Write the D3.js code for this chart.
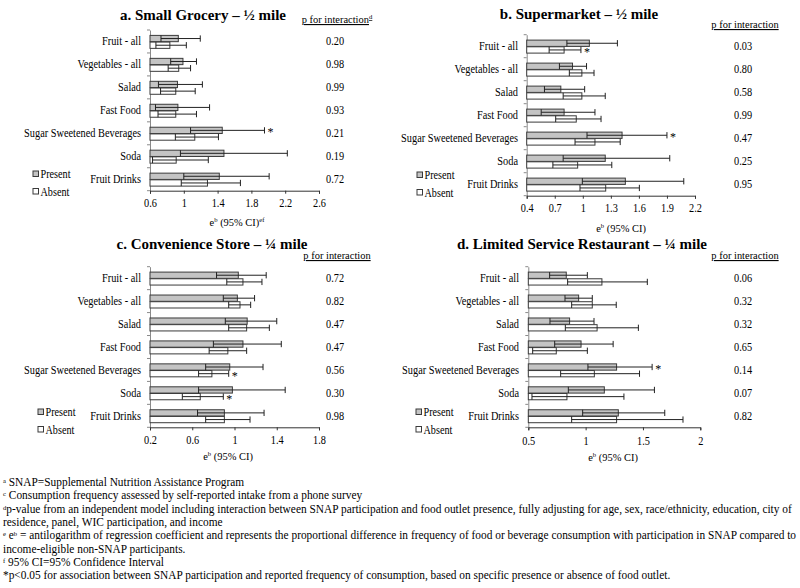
<!DOCTYPE html>
<html><head><meta charset="utf-8">
<script src="https://cdn.jsdelivr.net/npm/d3@7"></script>
<style>
body{margin:0;background:#fff;}
svg, svg text{font-family:"Liberation Serif","Times New Roman",Times,serif !important;}
</style></head>
<body><svg id="c" width="800" height="588" font-family="Liberation Serif"></svg>
<script>
const categories = ["Fruit - all","Vegetables - all","Salad","Fast Food","Sugar Sweetened Beverages","Soda","Fruit Drinks"];
const seriesNames = ["Present","Absent"];

// a. Small Grocery
const aPresent   = [0.935,0.99,0.925,0.93,1.455,1.475,1.42];
const aPresentLo = [0.73,0.845,0.70,0.665,1.08,0.96,1.0];
const aPresentHi = [1.195,1.15,1.22,1.305,1.955,2.225,2.01];
const aAbsent    = [0.835,0.94,0.905,0.905,1.13,0.91,1.28];
const aAbsentLo  = [0.67,0.815,0.725,0.695,0.90,0.63,0.97];
const aAbsentHi  = [1.03,1.08,1.135,1.15,1.41,1.29,1.67];
const aP = ["0.20","0.98","0.99","0.93","0.21","0.19","0.72"];
const aTicks = [0.6,1,1.4,1.8,2.2,2.6];
const aStars = [[4,"Present"]];

// b. Supermarket
const bPresent   = [1.07,0.89,0.765,0.80,1.42,1.24,1.455];
const bPresentLo = [0.83,0.75,0.59,0.555,1.045,0.79,0.995];
const bPresentHi = [1.37,1.04,1.02,1.13,1.90,1.93,2.08];
const bAbsent    = [0.80,0.99,0.99,0.93,1.13,0.945,1.245];
const bAbsentLo  = [0.64,0.856,0.79,0.71,0.917,0.68,0.97];
const bAbsentHi  = [0.98,1.12,1.24,1.195,1.40,1.31,1.605];
const bP = ["0.03","0.80","0.58","0.99","0.47","0.25","0.95"];
const bTicks = [0.4,0.7,1,1.3,1.6,1.9,2.2];
const bStars = [[0,"Absent"],[4,"Present"]];

// c. Convenience Store
const cPresent   = [1.036,1.027,1.12,1.08,0.955,0.98,0.904];
const cPresentLo = [0.83,0.894,0.913,0.80,0.727,0.66,0.65];
const cPresentHi = [1.30,1.19,1.40,1.443,1.27,1.48,1.28];
const cAbsent    = [1.08,1.052,1.115,0.937,0.786,0.676,0.904];
const cAbsentLo  = [0.927,0.945,0.945,0.76,0.66,0.506,0.727];
const cAbsentHi  = [1.26,1.153,1.33,1.115,0.945,0.894,1.147];
const cP = ["0.72","0.82","0.47","0.47","0.56","0.30","0.98"];
const cTicks = [0.2,0.6,1,1.4,1.8];
const cStars = [[4,"Absent"],[5,"Absent"]];

// d. Limited Service Restaurant
const dPresent   = [0.831,0.939,0.86,0.96,1.27,1.163,1.285];
const dPresentLo = [0.686,0.82,0.689,0.73,1.02,0.849,0.974];
const dPresentHi = [1.015,1.058,1.073,1.24,1.58,1.60,1.69];
const dAbsent    = [1.142,1.058,1.10,0.744,1.076,0.837,1.27];
const dAbsentLo  = [0.843,0.878,0.823,0.538,0.782,0.532,0.878];
const dAbsentHi  = [1.538,1.267,1.46,1.015,1.47,1.334,1.849];
const dP = ["0.06","0.32","0.32","0.65","0.14","0.07","0.82"];
const dTicks = [0.5,1,1.5,2];
const dStars = [[4,"Present"]];

const footnotes = [
  [["a",true],[" SNAP=Supplemental Nutrition Assistance Program",false]],
  [["c",true],[" Consumption frequency assessed by self-reported intake from a phone survey",false]],
  [["d",true],["p-value from an independent model including interaction between SNAP participation and food outlet presence, fully adjusting for age, sex, race/ethnicity, education, city of",false]],
  [["residence, panel, WIC participation, and income",false]],
  [["e",true],[" e",false],["b",true],[" = antilogarithm of regression coefficient and represents the proportional difference in frequency of food or beverage consumption with participation in SNAP compared to",false]],
  [["income-eligible non-SNAP participants.",false]],
  [["f",true],[" 95% CI=95% Confidence Interval",false]],
  [["*p<0.05 for association between SNAP participation and reported frequency of consumption, based on specific presence or absence of food outlet.",false]]
];

const panels = [
  {title:"a. Small Grocery \u2013 \u00bd mile", pres:[aPresent,aPresentLo,aPresentHi], abs:[aAbsent,aAbsentLo,aAbsentHi], p:aP, ticks:aTicks, stars:aStars, pSup:"d", xSup:"ef",
   L:150, R:319, T:30, B:190.7, titleX:203, titleY:20, pHeadX:337, pHeadY:23, pX:335, labX:141, legX:33, legY:174, xTitleX:237, xTitleY:226, tickY:207},
  {title:"b. Supermarket \u2013 \u00bd mile", pres:[bPresent,bPresentLo,bPresentHi], abs:[bAbsent,bAbsentLo,bAbsentHi], p:bP, ticks:bTicks, stars:bStars, pSup:"", xSup:"",
   L:526.7, R:695, T:34.7, B:195.7, titleX:579, titleY:19, pHeadX:745, pHeadY:28, pX:743, labX:518, legX:417, legY:175, xTitleX:621, xTitleY:232, tickY:212},
  {title:"c. Convenience Store \u2013 \u00bc mile", pres:[cPresent,cPresentLo,cPresentHi], abs:[cAbsent,cAbsentLo,cAbsentHi], p:cP, ticks:cTicks, stars:cStars, pSup:"", xSup:"",
   L:150, R:319, T:266.7, B:427.3, titleX:212, titleY:249, pHeadX:337, pHeadY:259, pX:335, labX:141, legX:38, legY:412, xTitleX:228, xTitleY:460, tickY:444},
  {title:"d. Limited Service Restaurant \u2013 \u00bc mile", pres:[dPresent,dPresentLo,dPresentHi], abs:[dAbsent,dAbsentLo,dAbsentHi], p:dP, ticks:dTicks, stars:dStars, pSup:"", xSup:"",
   L:528.3, R:700.3, T:266.7, B:427.3, titleX:582, titleY:249, pHeadX:745, pHeadY:259, pX:743, labX:519, legX:416, legY:412, xTitleX:613, xTitleY:461, tickY:445}
];

const svg = d3.select("#c");
const SERIF = "Liberation Serif";
const GRAY = "#c4c4c4", EDGE = "#3a3a3a";
const SX = 0.86; // horizontal squeeze of body text seen in the reference

function stext(sel, x, y, size, sx) {
  return sel.append("text").attr("transform",`translate(${x},${y}) scale(${sx},1)`).attr("font-size",size);
}

panels.forEach(P => {
  const g = svg.append("g").attr("font-family",SERIF);
  const x = d3.scaleLinear().domain([P.ticks[0], P.ticks[P.ticks.length-1]]).range([P.L, P.R]);
  const y = d3.scaleBand().domain(categories).range([P.T, P.B]).padding(0);
  const s = d3.scaleBand().domain(seriesNames).range([0.235*y.bandwidth(), 0.80*y.bandwidth()]).paddingInner(0.06);

  stext(g, P.titleX, P.titleY, 15, 1).attr("text-anchor","middle").attr("font-weight","bold").text(P.title);

  const ph = stext(g, P.pHeadX, P.pHeadY, 11, 0.95).attr("text-anchor","middle").attr("text-decoration","underline");
  ph.append("tspan").text("p for interaction");
  if (P.pSup) ph.append("tspan").attr("font-size",7).attr("dy",-4).text(P.pSup);

  const yAxis = d3.axisLeft(y).tickSize(0).tickFormat("");
  g.append("g").attr("transform",`translate(${P.L},0)`).call(yAxis)
    .call(a => a.select(".domain").attr("stroke","#8a8a8a"));
  g.selectAll(".bt").data(d3.range(categories.length+1)).join("line")
    .attr("x1",P.L-3).attr("x2",P.L).attr("y1",i=>P.T+i*y.bandwidth()).attr("y2",i=>P.T+i*y.bandwidth())
    .attr("stroke","#8a8a8a");

  categories.forEach(c => {
    stext(g, P.labX, y(c)+y.bandwidth()/2+4, 12, SX).attr("text-anchor","end").text(c);
  });

  const xAxis = d3.axisBottom(x).tickValues(P.ticks).tickSize(3).tickPadding(4).tickFormat(d=>String(d));
  const xa = g.append("g").attr("transform",`translate(0,${P.B})`).call(xAxis).attr("font-family",SERIF);
  xa.select(".domain").attr("stroke","#333");
  xa.selectAll(".tick line").attr("stroke","#333");
  xa.selectAll(".tick text").attr("font-size",12).attr("fill","#000")
    .attr("y",null).attr("dy",null).attr("transform",`translate(0,${P.tickY-P.B}) scale(${SX},1)`);

  const xt = stext(g, P.xTitleX, P.xTitleY, 11, 0.95).attr("text-anchor","middle");
  xt.append("tspan").text("e");
  xt.append("tspan").attr("font-size",7).attr("dy",-4).text("b");
  xt.append("tspan").attr("dy",4).text(" (95% CI)");
  if (P.xSup) xt.append("tspan").attr("font-size",7).attr("dy",-4).text(P.xSup);

  categories.forEach((c,i) => {
    stext(g, P.pX, y(c)+y.bandwidth()/2+4, 12, SX).attr("text-anchor","middle").text(P.p[i]);
  });

  const rows = [];
  categories.forEach((c,i)=>{
    rows.push({cat:c, ser:"Present", v:P.pres[0][i], lo:P.pres[1][i], hi:P.pres[2][i]});
    rows.push({cat:c, ser:"Absent", v:P.abs[0][i], lo:P.abs[1][i], hi:P.abs[2][i]});
  });
  const x0 = x.domain()[0];
  const bh = s.bandwidth();
  g.selectAll(".bar").data(rows).join("rect")
    .attr("x",x(x0)).attr("y",d=>y(d.cat)+s(d.ser)).attr("width",d=>x(d.v)-x(x0)).attr("height",bh)
    .attr("fill",d=>d.ser==="Present"?GRAY:"#fff").attr("stroke",EDGE).attr("stroke-width",1);
  const cy = d => y(d.cat)+s(d.ser)+bh/2;
  g.selectAll(".eb").data(rows).join("line")
    .attr("x1",d=>x(d.lo)).attr("x2",d=>x(d.hi)).attr("y1",cy).attr("y2",cy).attr("stroke","#222").attr("stroke-width",1);
  g.selectAll(".cl1").data(rows).join("line")
    .attr("x1",d=>x(d.lo)).attr("x2",d=>x(d.lo)).attr("y1",d=>cy(d)-bh/2).attr("y2",d=>cy(d)+bh/2).attr("stroke","#222");
  g.selectAll(".ch1").data(rows).join("line")
    .attr("x1",d=>x(d.hi)).attr("x2",d=>x(d.hi)).attr("y1",d=>cy(d)-bh/2).attr("y2",d=>cy(d)+bh/2).attr("stroke","#222");

  P.stars.forEach(([ci,ser]) => {
    const r = rows.find(q=>q.cat===categories[ci] && q.ser===ser);
    stext(g, x(r.hi)+3, cy(r)+6, 12, 1).text("*");
  });

  seriesNames.forEach((nm,k)=>{
    const ly = P.legY + k*17.5;
    g.append("rect").attr("x",P.legX).attr("y",ly-3).attr("width",5.5).attr("height",5.5)
      .attr("fill",k===0?GRAY:"#fff").attr("stroke",EDGE);
    stext(g, P.legX+7.5, ly+4, 12, 0.85).text(nm);
  });
});

const fn = svg.append("g").attr("font-family",SERIF);
footnotes.forEach((parts,i)=>{
  const t = stext(fn, 3, 486+i*13.3, 12, 0.948);
  let up = false;
  parts.forEach(([txt,sup])=>{
    const dy = sup ? (up ? 0 : -3) : (up ? 3 : 0);
    up = sup;
    t.append("tspan").attr("font-size",sup?7:12).attr("dy",dy||null).text(txt);
  });
});
</script></body></html>
